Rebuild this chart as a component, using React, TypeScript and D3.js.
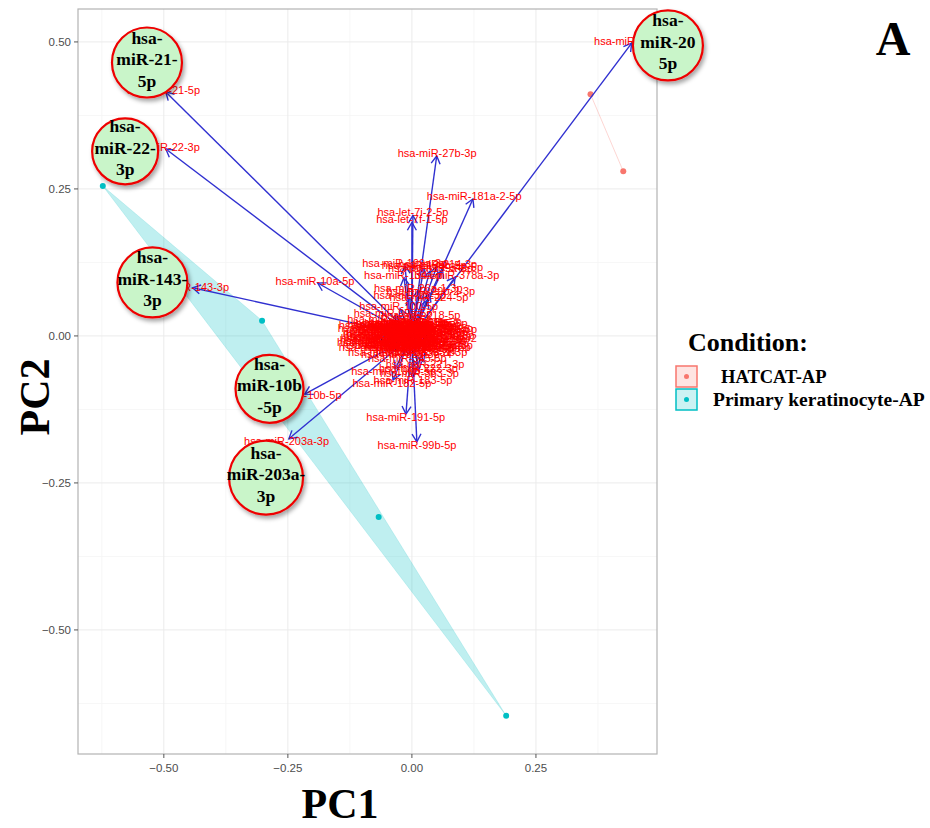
import * as d3 from "d3";
import React from "react";

const W = 930;
const H = 828;

// axis ticks (ggplot theme_bw: major + minor grid)
const xTicks = [-0.5, -0.25, 0, 0.25];
const yTicks = [-0.5, -0.25, 0, 0.25, 0.5];
const xMinor = [-0.625, -0.375, -0.125, 0.125, 0.375];
const yMinor = [-0.625, -0.375, -0.125, 0.125, 0.375];

// sample scores (PC1, PC2)
const hatcatScores: [number, number][] = [
  [0.36, 0.411],
  [0.426, 0.28],
];
const keratinocyteScores: [number, number][] = [
  [-0.623, 0.255],
  [-0.302, 0.026],
  [-0.067, -0.308],
  [0.19, -0.646],
];

// variable loadings: the long arrows
const outerLoadings: [string, number, number][] = [
  ["hsa-miR-205-5p", 0.443, 0.498],
  ["hsa-miR-21-5p", -0.496, 0.415],
  ["hsa-miR-22-3p", -0.496, 0.318],
  ["hsa-miR-143-3p", -0.442, 0.082],
  ["hsa-miR-10a-5p", -0.19, 0.09],
  ["hsa-miR-10b-5p", -0.216, -0.099],
  ["hsa-miR-203a-3p", -0.248, -0.175],
  ["hsa-miR-27b-3p", 0.05, 0.306],
  ["hsa-miR-181a-2-5p", 0.123, 0.233],
  ["hsa-let-7i-2-5p", 0.002, 0.205],
  ["hsa-let-7f-1-5p", 0.0, 0.193],
  ["hsa-miR-378a-3p", 0.087, 0.1],
  ["hsa-miR-191-5p", -0.012, -0.133],
  ["hsa-miR-99b-5p", 0.01, -0.18],
];

// loadings just above the central cluster
const upperLoadings: [string, number, number][] = [
  ["hsa-miR-199a-3p", -0.014, 0.119],
  ["hsa-miR-199b-5p", 0.024, 0.115],
  ["hsa-miR-199a-5p", 0.036, 0.11],
  ["hsa-miR-214-3p", 0.05, 0.118],
  ["hsa-miR-34c-5p", 0.062, 0.112],
  ["hsa-miR-134-5p", -0.016, 0.099],
  ["hsa-miR-26a-1-3p", 0.012, 0.077],
  ["hsa-miR-29b-2-3p", 0.036, 0.072],
  ["hsa-miR-21-3p", -0.004, 0.065],
  ["hsa-miR-224-5p", 0.032, 0.061],
  ["hsa-miR-100-5p", -0.024, 0.046],
  ["hsa-miR-99a-5p", -0.034, 0.034],
  ["hsa-miR-218-5p", 0.016, 0.031],
  ["hsa-miR-450a-5p", -0.04, 0.026],
];

// dense cluster of small loadings around the origin
const coreLoadings: [string, number, number][] = [
  ["hsa-miR-200a-3p", -0.058, 0.012],
  ["hsa-miR-200b-3p", -0.052, -0.004],
  ["hsa-miR-200c-3p", -0.06, -0.01],
  ["hsa-miR-141-3p", -0.045, 0.016],
  ["hsa-miR-148a-3p", -0.04, 0.002],
  ["hsa-miR-25-3p", -0.036, -0.013],
  ["hsa-miR-92a-3p", -0.03, 0.01],
  ["hsa-miR-103a-3p", -0.026, -0.006],
  ["hsa-miR-107", -0.022, 0.015],
  ["hsa-miR-16-5p", -0.018, -0.015],
  ["hsa-miR-15a-5p", -0.014, 0.005],
  ["hsa-miR-26a-5p", -0.01, -0.009],
  ["hsa-miR-30a-5p", -0.006, 0.013],
  ["hsa-miR-30d-5p", -0.002, -0.002],
  ["hsa-miR-30e-5p", 0.002, 0.008],
  ["hsa-miR-186-5p", 0.006, -0.012],
  ["hsa-miR-423-5p", 0.01, 0.003],
  ["hsa-miR-425-5p", 0.014, -0.016],
  ["hsa-miR-484", 0.018, 0.011],
  ["hsa-miR-574-3p", 0.022, -0.005],
  ["hsa-miR-7-5p", 0.026, 0.016],
  ["hsa-miR-27a-3p", 0.03, -0.01],
  ["hsa-miR-24-3p", 0.034, 0.006],
  ["hsa-miR-23a-3p", 0.038, -0.014],
  ["hsa-miR-23b-3p", 0.041, 0.001],
  ["hsa-miR-3960-r2", 0.042, -0.004],
  ["hsa-miR-125a-5p", -0.048, -0.014],
  ["hsa-miR-125b-5p", -0.034, 0.007],
  ["hsa-miR-126-3p", -0.02, 0.0],
  ["hsa-miR-130a-3p", -0.008, 0.017],
  ["hsa-miR-140-3p", 0.004, -0.017],
  ["hsa-miR-146a-5p", 0.016, 0.007],
  ["hsa-miR-151a-3p", 0.028, -0.001],
  ["hsa-miR-152-3p", -0.054, 0.006],
  ["hsa-miR-181b-5p", -0.042, -0.008],
  ["hsa-miR-192-5p", -0.028, 0.014],
  ["hsa-miR-196a-5p", -0.016, -0.011],
  ["hsa-miR-320a", -0.004, 0.004],
  ["hsa-miR-342-3p", 0.008, 0.014],
  ["hsa-miR-361-5p", 0.02, -0.013],
  ["hsa-miR-374a-5p", 0.032, 0.012],
  ["hsa-miR-375", -0.064, 0.002],
  ["hsa-miR-98-5p", -0.066, -0.006],
  ["hsa-let-7a-5p", -0.05, 0.01],
  ["hsa-let-7b-5p", -0.038, 0.013],
  ["hsa-let-7c-5p", -0.024, -0.016],
  ["hsa-let-7d-5p", -0.012, 0.009],
  ["hsa-let-7e-5p", 0.0, -0.013],
  ["hsa-let-7g-5p", 0.012, 0.001],
  ["hsa-miR-3074-5p", 0.024, 0.009],
  ["hsa-miR-1246", 0.036, -0.008],
  ["hsa-miR-1307-3p", -0.046, 0.0],
  ["hsa-miR-4485-3p", -0.032, -0.002],
  ["hsa-miR-664a-5p", -0.018, 0.006],
  ["hsa-miR-28-3p", -0.004, -0.006],
  ["hsa-miR-17-5p", 0.01, -0.008],
  ["hsa-miR-19b-3p", 0.022, 0.004],
  ["hsa-miR-20a-5p", 0.034, -0.017],
  ["hsa-miR-106b-5p", -0.056, -0.017],
  ["hsa-miR-93-5p", -0.04, 0.018],
  ["hsa-miR-31-5p", -0.026, 0.003],
  ["hsa-miR-34a-5p", -0.012, -0.004],
  ["hsa-miR-135b-5p", 0.002, 0.016],
  ["hsa-miR-149-5p", 0.016, -0.003],
  ["hsa-miR-185-5p", 0.028, 0.018],
  ["hsa-miR-193a-5p", 0.04, 0.01],
  ["hsa-miR-210-3p", -0.062, 0.016],
  ["hsa-miR-29a-3p", -0.006, 0.019],
  ["hsa-miR-29b-3p", 0.018, 0.019],
  ["hsa-miR-29c-3p", -0.03, 0.019],
  ["hsa-miR-339-5p", -0.044, -0.024],
  ["hsa-miR-328-3p", -0.02, -0.026],
  ["hsa-miR-330-3p", 0.006, -0.022],
  ["hsa-miR-331-3p", 0.028, -0.024],
  ["hsa-miR-345-5p", -0.008, -0.032],
];

// loadings just below the cluster
const lowerLoadings: [string, number, number][] = [
  ["hsa-miR-221-3p", 0.024, -0.044],
  ["hsa-miR-222-3p", 0.012, -0.05],
  ["hsa-miR-196b-5p", -0.034, -0.056],
  ["hsa-miR-363-3p", 0.014, -0.058],
  ["hsa-miR-182-5p", -0.038, -0.075],
  ["hsa-miR-183-5p", 0.002, -0.07],
];

// highlighted miRNAs (callout bubbles), centre in PC units
const calloutNames = [
  ["hsa-", "miR-21-", "5p"],
  ["hsa-", "miR-22-", "3p"],
  ["hsa-", "miR-143-", "3p"],
  ["hsa-", "miR-10b", "-5p"],
  ["hsa-", "miR-203a-", "3p"],
  ["hsa-", "miR-20", "5p"],
];
const calloutPC1 = [-0.534, -0.578, -0.523, -0.287, -0.294, 0.516];
const calloutPC2 = [0.465, 0.314, 0.091, -0.09, -0.241, 0.494];
const calloutRadius = [35, 33, 35, 34, 37, 35];

const groups = ["HATCAT-AP", "Primary keratinocyte-AP"];
const groupColors = ["#F8766D", "#00BFC4"];

const SERIF = "'Liberation Serif', 'Times New Roman', serif";
const SANS = "'Liberation Sans', Arial, Helvetica, sans-serif";
const ARROW = "#3030d0";

export default function App() {
  const left = 78;
  const right = 657;
  const top = 9;
  const bottom = 754;

  const x = d3.scaleLinear().domain([-0.673, 0.494]).range([left, right]);
  const y = d3.scaleLinear().domain([-0.711, 0.556]).range([bottom, top]);

  const loadings = [
    ...coreLoadings,
    ...lowerLoadings,
    ...upperLoadings,
    ...outerLoadings,
  ];

  const ox = x(0);
  const oy = y(0);

  const arrows = loadings.map(([name, pc1, pc2]) => {
    const tx = x(pc1);
    const ty = y(pc2);
    const ang = Math.atan2(ty - oy, tx - ox);
    const len = 9;
    const h1 = [tx - len * Math.cos(ang - Math.PI / 6), ty - len * Math.sin(ang - Math.PI / 6)];
    const h2 = [tx - len * Math.cos(ang + Math.PI / 6), ty - len * Math.sin(ang + Math.PI / 6)];
    return {
      name,
      tx,
      ty,
      head: `M${h1[0]},${h1[1]}L${tx},${ty}L${h2[0]},${h2[1]}`,
      lx: tx + 3 * Math.cos(ang),
      ly: ty + 3 * Math.sin(ang),
    };
  });

  const tealPts = keratinocyteScores.map(([a, b]) => [x(a), y(b)] as [number, number]);
  const hull = d3.polygonHull(tealPts);
  const redLine = d3.line()(hatcatScores.map(([a, b]) => [x(a), y(b)] as [number, number]));

  return (
    <svg
      width={W}
      height={H}
      style={{ position: "absolute", left: 0, top: 0, background: "#fff" }}
    >
      <defs>
        <filter id="shadow" x="-30%" y="-30%" width="160%" height="160%">
          <feDropShadow dx="2" dy="3" stdDeviation="2" floodColor="#000" floodOpacity="0.35" />
        </filter>
        <clipPath id="panel">
          <rect x={left} y={top} width={right - left} height={bottom - top} />
        </clipPath>
      </defs>

      {/* grid */}
      <g>
        {xMinor.map((t) => (
          <line key={"xm" + t} x1={x(t)} x2={x(t)} y1={top} y2={bottom} stroke="#f4f4f4" strokeWidth={0.8} />
        ))}
        {yMinor.map((t) => (
          <line key={"ym" + t} y1={y(t)} y2={y(t)} x1={left} x2={right} stroke="#f4f4f4" strokeWidth={0.8} />
        ))}
        {xTicks.map((t) => (
          <line key={"x" + t} x1={x(t)} x2={x(t)} y1={top} y2={bottom} stroke="#ebebeb" strokeWidth={1} />
        ))}
        {yTicks.map((t) => (
          <line key={"y" + t} y1={y(t)} y2={y(t)} x1={left} x2={right} stroke="#ebebeb" strokeWidth={1} />
        ))}
      </g>

      <g clipPath="url(#panel)">
        {hull && (
          <path d={"M" + hull.join("L") + "Z"} fill="#00BFC4" fillOpacity={0.25} stroke="#00BFC4" strokeOpacity={0.15} />
        )}
        <path d={redLine || ""} stroke="#F8766D" strokeOpacity={0.3} fill="none" />
        {hatcatScores.map(([a, b], i) => (
          <circle key={"h" + i} cx={x(a)} cy={y(b)} r={3} fill="#F8766D" />
        ))}
        {keratinocyteScores.map(([a, b], i) => (
          <circle key={"k" + i} cx={x(a)} cy={y(b)} r={3} fill="#00BFC4" />
        ))}

        {arrows.map((a) => (
          <g key={"a" + a.name} stroke={ARROW} strokeWidth={1.4} fill="none">
            <line x1={ox} y1={oy} x2={a.tx} y2={a.ty} />
            <path d={a.head} />
          </g>
        ))}
        {arrows.map((a) => (
          <text
            key={"t" + a.name}
            x={a.lx}
            y={a.ly}
            dy="0.35em"
            textAnchor="middle"
            fontFamily={SANS}
            fontSize={11}
            fill="#ff0000"
          >
            {a.name}
          </text>
        ))}
      </g>

      {/* panel border */}
      <rect x={left} y={top} width={right - left} height={bottom - top} fill="none" stroke="#b3b3b3" strokeWidth={1.2} />

      {/* axes */}
      {xTicks.map((t) => (
        <g key={"xt" + t}>
          <line x1={x(t)} x2={x(t)} y1={bottom} y2={bottom + 4} stroke="#555" />
          <text x={x(t)} y={bottom + 18} textAnchor="middle" fontFamily={SANS} fontSize={11.5} fill="#4d4d4d">
            {d3.format(".2f")(t)}
          </text>
        </g>
      ))}
      {yTicks.map((t) => (
        <g key={"yt" + t}>
          <line x1={left - 4} x2={left} y1={y(t)} y2={y(t)} stroke="#555" />
          <text x={left - 7} y={y(t)} dy="0.35em" textAnchor="end" fontFamily={SANS} fontSize={11.5} fill="#4d4d4d">
            {d3.format(".2f")(t)}
          </text>
        </g>
      ))}

      <text x={340} y={818} textAnchor="middle" fontFamily={SERIF} fontWeight="bold" fontSize={42}>
        PC1
      </text>
      <text
        transform="translate(49,397) rotate(-90)"
        textAnchor="middle"
        fontFamily={SERIF}
        fontWeight="bold"
        fontSize={42}
      >
        PC2
      </text>

      {/* callouts */}
      {calloutNames.map((lines, i) => {
        const cx = x(calloutPC1[i]);
        const cy = y(calloutPC2[i]);
        return (
          <g key={"c" + i}>
            <circle cx={cx} cy={cy} r={calloutRadius[i]} fill="#c9f5c9" stroke="#ee0000" strokeWidth={2.2} filter="url(#shadow)" />
            {lines.map((l, j) => (
              <text
                key={j}
                x={cx}
                y={cy - 19 + j * 21.5}
                textAnchor="middle"
                fontFamily={SERIF}
                fontWeight="bold"
                fontSize={17.5}
                fill="#000"
              >
                {l}
              </text>
            ))}
          </g>
        );
      })}

      {/* legend */}
      <text x={688} y={351} fontFamily={SERIF} fontWeight="bold" fontSize={26}>
        Condition:
      </text>
      {groups.map((g, i) => (
        <g key={g}>
          <rect
            x={676}
            y={366 + i * 23}
            width={21}
            height={21}
            fill={groupColors[i]}
            fillOpacity={0.2}
            stroke={groupColors[i]}
            strokeWidth={1.5}
          />
          <circle cx={686.5} cy={376.5 + i * 23} r={2.5} fill={groupColors[i]} />
          <text
            x={i === 0 ? 721 : 713}
            y={i === 0 ? 383 : 406}
            fontFamily={SERIF}
            fontWeight="bold"
            fontSize={i === 0 ? 18.5 : 19.5}
          >
            {g}
          </text>
        </g>
      ))}

      <text x={893} y={55} textAnchor="middle" fontFamily={SERIF} fontWeight="bold" fontSize={48}>
        A
      </text>
    </svg>
  );
}
